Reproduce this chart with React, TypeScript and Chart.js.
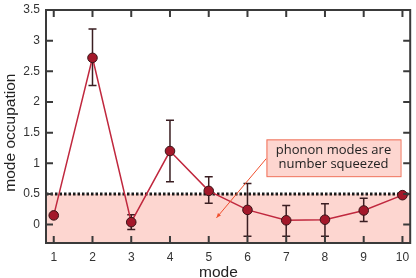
import React, { useEffect, useRef } from "react";
import { Chart, registerables } from "chart.js";

Chart.register(...registerables);

const modes = [1, 2, 3, 4, 5, 6, 7, 8, 9, 10];
const occupation = [0.15, 2.72, 0.04, 1.2, 0.55, 0.24, 0.07, 0.08, 0.23, 0.48];
const errLow = [0.15, 2.27, -0.08, 0.7, 0.35, -0.19, -0.19, -0.19, 0.05, 0.48];
const errHigh = [0.15, 3.19, 0.16, 1.7, 0.78, 0.67, 0.31, 0.34, 0.43, 0.48];
const xTicks = [1, 2, 3, 4, 5, 6, 7, 8, 9, 10];
const yTicks = [0, 0.5, 1, 1.5, 2, 2.5, 3, 3.5];
const threshold = 0.5;
const xTitle = "mode";
const yTitle = "mode occupation";
const noteLines = ["phonon modes are", "number squeezed"];
const noteBox = { x0: 6.49, x1: 9.95, y0: 1.39, y1: 0.79 };
const noteArrow = { fromX: 6.49, fromY: 1.08, toX: 5.2, toY: 0.11 };

const framePlugin = {
  id: "framePlugin",
  beforeDatasetsDraw(chart: any) {
    const { ctx, chartArea: a, scales } = chart;
    const xs = scales.x;
    const ys = scales.y;
    const yT = ys.getPixelForValue(threshold);
    ctx.save();
    ctx.fillStyle = "rgb(253,214,208)";
    ctx.fillRect(a.left, yT, a.right - a.left, a.bottom - yT);
    ctx.strokeStyle = "#1a1a1a";
    ctx.lineWidth = 3;
    ctx.setLineDash([2.5, 2]);
    ctx.beginPath();
    ctx.moveTo(a.left, yT);
    ctx.lineTo(a.right, yT);
    ctx.stroke();
    ctx.setLineDash([]);
    ctx.strokeStyle = "#3a1e22";
    ctx.lineWidth = 1.5;
    modes.forEach((m, i) => {
      if (errHigh[i] - errLow[i] < 0.01) return;
      const px = xs.getPixelForValue(m);
      const pl = ys.getPixelForValue(errLow[i]);
      const ph = ys.getPixelForValue(errHigh[i]);
      ctx.beginPath();
      ctx.moveTo(px, pl);
      ctx.lineTo(px, ph);
      ctx.moveTo(px - 4, pl);
      ctx.lineTo(px + 4, pl);
      ctx.moveTo(px - 4, ph);
      ctx.lineTo(px + 4, ph);
      ctx.stroke();
    });
    ctx.restore();
  },
  afterDatasetsDraw(chart: any) {
    const { ctx, chartArea: a, scales } = chart;
    const xs = scales.x;
    const ys = scales.y;
    ctx.save();
    ctx.strokeStyle = "#3a3a3a";
    ctx.lineWidth = 2;
    const tl = 7;
    ctx.beginPath();
    xTicks.forEach((v) => {
      const px = xs.getPixelForValue(v);
      ctx.moveTo(px, a.bottom);
      ctx.lineTo(px, a.bottom - tl);
      ctx.moveTo(px, a.top);
      ctx.lineTo(px, a.top + tl);
    });
    yTicks.forEach((v) => {
      const py = ys.getPixelForValue(v);
      ctx.moveTo(a.left, py);
      ctx.lineTo(a.left + tl, py);
      ctx.moveTo(a.right, py);
      ctx.lineTo(a.right - tl, py);
    });
    ctx.stroke();
    ctx.strokeRect(a.left, a.top, a.right - a.left, a.bottom - a.top);
    ctx.restore();
  },
  afterDraw(chart: any) {
    const { ctx, scales, chartArea: a } = chart;
    const xs = scales.x;
    const ys = scales.y;
    ctx.save();
    // axis titles
    ctx.fillStyle = "#222";
    ctx.font = "15.5px 'Liberation Sans'";
    ctx.textAlign = "center";
    ctx.textBaseline = "alphabetic";
    ctx.fillText(xTitle, xs.getPixelForValue(5.25), a.bottom + 33.5);
    ctx.save();
    ctx.translate(15, ys.getPixelForValue(1.5));
    ctx.rotate(-Math.PI / 2);
    ctx.fillText(yTitle, 0, 0);
    ctx.restore();
    // annotation
    const bx0 = xs.getPixelForValue(noteBox.x0);
    const bx1 = xs.getPixelForValue(noteBox.x1);
    const by0 = ys.getPixelForValue(noteBox.y0);
    const by1 = ys.getPixelForValue(noteBox.y1);
    const ax0 = xs.getPixelForValue(noteArrow.fromX);
    const ay0 = ys.getPixelForValue(noteArrow.fromY);
    const ax1 = xs.getPixelForValue(noteArrow.toX);
    const ay1 = ys.getPixelForValue(noteArrow.toY);
    ctx.strokeStyle = "#f0502e";
    ctx.fillStyle = "#f0502e";
    ctx.lineWidth = 1;
    ctx.beginPath();
    ctx.moveTo(ax0, ay0);
    ctx.lineTo(ax1, ay1);
    ctx.stroke();
    const ang = Math.atan2(ay1 - ay0, ax1 - ax0);
    const hl = 5;
    ctx.beginPath();
    ctx.moveTo(ax1, ay1);
    ctx.lineTo(ax1 - hl * Math.cos(ang - 0.4), ay1 - hl * Math.sin(ang - 0.4));
    ctx.lineTo(ax1 - hl * Math.cos(ang + 0.4), ay1 - hl * Math.sin(ang + 0.4));
    ctx.closePath();
    ctx.fill();
    ctx.fillStyle = "rgb(253,214,208)";
    ctx.fillRect(bx0, by0, bx1 - bx0, by1 - by0);
    ctx.strokeStyle = "#f07058";
    ctx.lineWidth = 1;
    ctx.strokeRect(bx0 + 0.5, by0 + 0.5, bx1 - bx0, by1 - by0);
    ctx.fillStyle = "#222";
    ctx.font = "13px 'Open Sans'";
    ctx.textAlign = "center";
    ctx.textBaseline = "middle";
    const cx = (bx0 + bx1) / 2;
    const cy = (by0 + by1) / 2;
    ctx.fillText(noteLines[0], cx, cy - 7);
    ctx.fillText(noteLines[1], cx, cy + 7);
    ctx.restore();
  },
};

export default function App() {
  const ref = useRef<HTMLCanvasElement | null>(null);
  useEffect(() => {
    document.body.style.margin = "0";
    const chart = new Chart(ref.current as HTMLCanvasElement, {
      type: "line",
      data: {
        datasets: [
          {
            data: modes.map((m, i) => ({ x: m, y: occupation[i] })),
            borderColor: "#c0283e",
            borderWidth: 1.5,
            backgroundColor: "#a3182a",
            pointBackgroundColor: "#a3182a",
            pointBorderColor: "#3a1418",
            pointBorderWidth: 1,
            pointRadius: 4.8,
            tension: 0,
          },
        ],
      },
      plugins: [framePlugin],
      options: {
        animation: false,
        responsive: false,
        maintainAspectRatio: false,
        layout: { padding: { top: 10, right: 3, left: 0, bottom: 0 } },
        plugins: { legend: { display: false }, tooltip: { enabled: false } },
        scales: {
          x: {
            type: "linear",
            min: 0.8,
            max: 10.2,
            afterBuildTicks: (s: any) => {
              s.ticks = xTicks.map((v) => ({ value: v }));
            },
            afterFit: (s: any) => {
              s.height = 35;
            },
            grid: { display: false, drawTicks: true, tickLength: 7 },
            border: { display: false },
            ticks: {
              padding: 0,
              color: "#333",
              font: { family: "'Liberation Sans'", size: 12 },
              callback: (v: any) => String(v),
            },
            title: { display: false },
          },
          y: {
            type: "linear",
            min: -0.3,
            max: 3.5,
            afterBuildTicks: (s: any) => {
              s.ticks = yTicks.map((v) => ({ value: v }));
            },
            afterFit: (s: any) => {
              s.width = 46;
            },
            grid: { display: false, drawTicks: true, tickLength: 6 },
            border: { display: false },
            ticks: {
              padding: 0,
              color: "#333",
              font: { family: "'Liberation Sans'", size: 12 },
              callback: (v: any) => String(v),
            },
            title: { display: false },
          },
        },
      },
    } as any);
    return () => chart.destroy();
  }, []);
  return (
    <div style={{ width: 416, height: 278 }}>
      <canvas ref={ref} width={416} height={278} style={{ display: "block" }} />
    </div>
  );
}
